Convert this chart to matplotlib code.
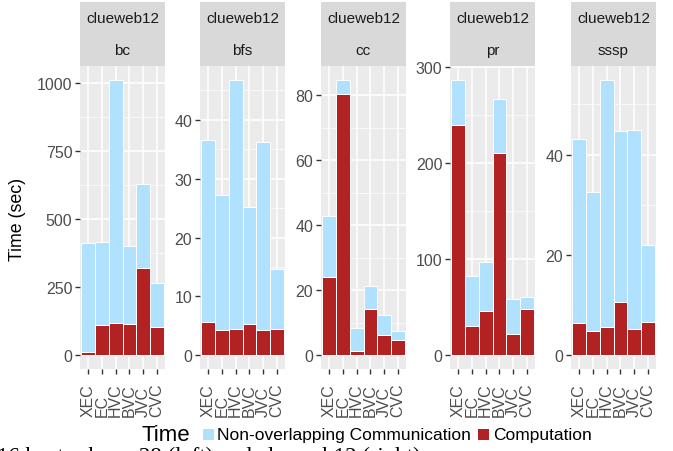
import matplotlib.pyplot as plt
import numpy as np
from matplotlib.patches import Rectangle
from matplotlib.ticker import MultipleLocator

plt.rcParams['font.family'] = ['Liberation Sans', 'DejaVu Sans']

# ---------------------------------------------------
# data
# ---------------------------------------------------
methods = ["XEC", "EC", "HVC", "BVC", "JVC", "CVC"]
graph = "clueweb12"
benchmarks = ["bc", "bfs", "cc", "pr", "sssp"]

computation = {
    "bc":   [11, 111, 119, 115, 320, 104],
    "bfs":  [5.6, 4.3, 4.4, 5.3, 4.3, 4.4],
    "cc":   [24.1, 80.5, 1.3, 14.3, 6.2, 4.7],
    "pr":   [240, 30.3, 46, 211, 22, 48.4],
    "sssp": [6.4, 4.8, 5.6, 10.6, 5.2, 6.6],
}
communication = {
    "bc":   [403, 307, 894, 288, 308, 161],
    "bfs":  [31.0, 23.0, 42.4, 19.9, 32.0, 10.2],
    "cc":   [18.9, 4.3, 7.1, 6.9, 6.1, 2.7],
    "pr":   [47, 52.3, 51.2, 56, 36.5, 12.2],
    "sssp": [36.7, 27.7, 49.3, 34.0, 39.6, 15.3],
}
tick_step = {"bc": 250, "bfs": 10, "cc": 20, "pr": 100, "sssp": 20}

# ---------------------------------------------------
# layout (pixels)
# ---------------------------------------------------
W, H = 673, 452
panel_x = {"bc": 80, "bfs": 200, "cc": 321, "pr": 450, "sssp": 571}
panel_w = 85
strip_top, panel_top, panel_bottom = 3, 67, 370

COMP = "#B22222"
COMM = "#B0E2FF"


def box(x0, y0, x1, y1):
    return [x0 / W, 1 - y1 / H, (x1 - x0) / W, (y1 - y0) / H]


fig = plt.figure(figsize=(W / 100, H / 100), dpi=100)

for b in benchmarks:
    x0 = panel_x[b]
    ax = fig.add_axes(box(x0, panel_top, x0 + panel_w, panel_bottom))
    ax.set_facecolor("#EBEBEB")
    for s in ax.spines.values():
        s.set_visible(False)
    x = np.arange(len(methods))
    comp = np.array(computation[b])
    comm = np.array(communication[b])
    ax.bar(x, comp, width=1.0, color=COMP, edgecolor="white", linewidth=0.7, zorder=3)
    ax.bar(x, comm, bottom=comp, width=1.0, color=COMM, edgecolor="white", linewidth=0.7, zorder=3)
    top = (comp + comm).max()
    ax.set_ylim(-0.05 * top, 1.05 * top)
    ax.set_xlim(-0.6, len(methods) - 0.4)
    ax.yaxis.set_major_locator(MultipleLocator(tick_step[b]))
    ax.yaxis.set_minor_locator(MultipleLocator(tick_step[b] / 2))
    ax.set_xticks(x)
    ax.set_xticklabels(methods, rotation=90, va="bottom")
    ax.grid(True, which="major", color="white", linewidth=1.1, zorder=0)
    ax.grid(True, which="minor", axis="y", color="white", linewidth=0.5, zorder=0)
    ax.set_axisbelow(True)
    ax.tick_params(axis="both", which="major", length=3.5, width=1, color="#333333",
                   labelcolor="#4D4D4D", labelsize=11.5, pad=2)
    ax.tick_params(axis="x", which="major", pad=30)
    ax.tick_params(axis="y", which="minor", length=0)

    # facet strips
    sax = fig.add_axes(box(x0, strip_top, x0 + panel_w, panel_top))
    sax.set_xlim(0, 1)
    sax.set_ylim(0, 1)
    sax.axis("off")
    sax.add_patch(Rectangle((0, 0), 1, 1, facecolor="#D9D9D9", edgecolor="none"))
    sax.text(0.5, 0.75, graph, ha="center", va="center", fontsize=11, color="#1A1A1A")
    sax.text(0.5, 0.25, b, ha="center", va="center", fontsize=11, color="#1A1A1A")

fig.text(18 / W, 1 - 219 / H, "Time (sec)", rotation=90, ha="center", va="center", fontsize=12.8)

# legend
fig.text(142 / W, 1 - 436 / H, "Time", ha="left", va="center", fontsize=16)
fig.patches.append(Rectangle((203 / W, 1 - 441 / H), 11 / W, 11 / H, facecolor=COMM,
                             edgecolor="none", transform=fig.transFigure, figure=fig))
fig.text(217 / W, 1 - 436 / H, "Non-overlapping Communication", ha="left", va="center", fontsize=12.5)
fig.patches.append(Rectangle((478 / W, 1 - 441 / H), 11 / W, 11 / H, facecolor=COMP,
                             edgecolor="none", transform=fig.transFigure, figure=fig))
fig.text(493 / W, 1 - 436 / H, "Computation", ha="left", va="center", fontsize=12.5)

# caption cut off at the bottom of the picture
fig.text(-3 / W, 1 - 446.5 / H, "16 hosts above 38 (left) and clueweb12 (right)", ha="left", va="top",
         fontsize=16.5, family=["Liberation Serif", "DejaVu Serif"])

fig.savefig("out.png", dpi=100)
